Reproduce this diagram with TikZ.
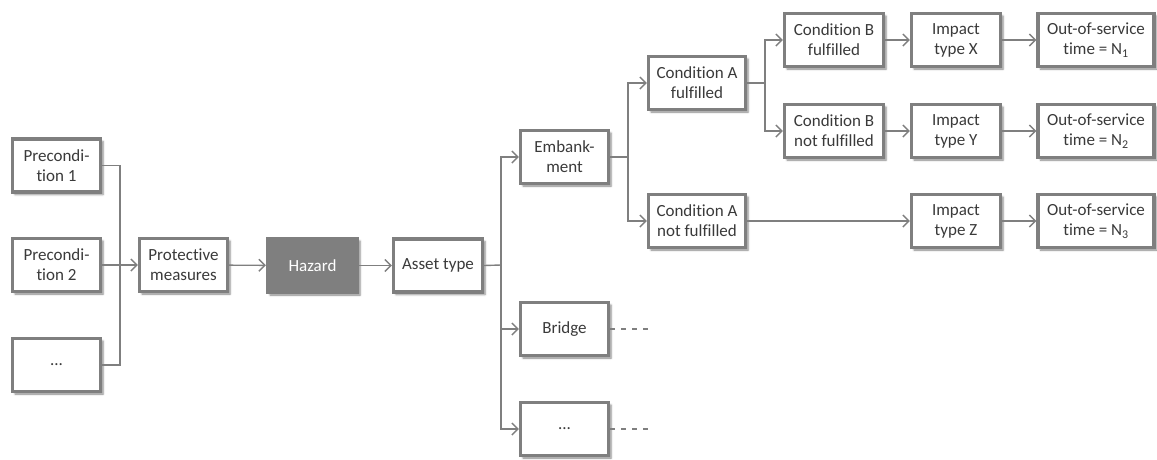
\documentclass[tikz,border=0pt]{standalone}
\usepackage{fontspec}
\setmainfont{Carlito}[Ligatures={NoCommon}]
\usetikzlibrary{arrows.meta,shadows.blur}
\definecolor{linegray}{HTML}{7F7F7F}
\definecolor{txtgray}{HTML}{3A3A3A}
\tikzset{
  box/.style={draw=linegray, line width=3.2pt, fill=white, align=center,
    text=txtgray, inner sep=0pt, minimum width=88pt, minimum height=53pt,
    font=\fontsize{17}{20}\selectfont,
    blur shadow={shadow xshift=2.5pt, shadow yshift=-2.5pt,
      shadow blur radius=2pt, shadow opacity=50}},
  hazbox/.style={box, fill=linegray, text=white, minimum width=90pt, minimum height=54pt},
  link/.style={draw=linegray, line width=1.4pt},
  arr/.style={link, -{Straight Barb[length=6pt,width=12pt,line width=1.4pt]}},
  trail/.style={link, dash pattern=on 5pt off 6pt}
}
\begin{document}
\begin{tikzpicture}[x=1pt,y=-1pt]
\useasboundingbox (0,0) rectangle (1157,459);

% preconditions and the hazard chain
\node[box] (p1) at (56.5,165.5) {Precondi-\\tion 1};
\node[box] (p2) at (56.5,265) {Precondi-\\tion 2};
\node[box] (p3) at (56.5,365) {...};
\node[box] (prot) at (183.5,265) {Protective\\measures};
\node[hazbox] (haz) at (312.5,265.5) {Hazard};
\node[box, minimum width=89pt] (asset) at (438,265.5) {Asset type};

% asset types
\node[box] (emb) at (564.5,157) {Embank-\\ment};
\node[box] (bridge) at (564.5,329) {Bridge};
\node[box] (adots) at (564.5,429) {...};

% conditions
\node[box, minimum width=97pt] (caf) at (697,83) {Condition A\\fulfilled};
\node[box, minimum width=97pt] (can) at (697,221) {Condition A\\not fulfilled};
\node[box, minimum width=99pt] (cbf) at (834,40) {Condition B\\fulfilled};
\node[box, minimum width=99pt] (cbn) at (834,131) {Condition B\\not fulfilled};

% impacts and outcomes
\node[box, minimum width=89pt] (ix) at (956,40) {Impact\\type X};
\node[box, minimum width=89pt] (iy) at (956,131) {Impact\\type Y};
\node[box, minimum width=89pt] (iz) at (956,221) {Impact\\type Z};
\node[box, minimum width=116pt] (o1) at (1096,40) {Out-of-service\\time = N\textsubscript{1}};
\node[box, minimum width=116pt] (o2) at (1096,131) {Out-of-service\\time = N\textsubscript{2}};
\node[box, minimum width=116pt] (o3) at (1096,221) {Out-of-service\\time = N\textsubscript{3}};

% branching points
\coordinate (b1) at (120,265);
\coordinate (b2) at (501,265);
\coordinate (b3) at (628,157);
\coordinate (b4) at (765,83);
\coordinate (bt) at (648,329);
\coordinate (dt) at (648,429);

% connectors
\draw[link] (p1.east) -| (b1);
\draw[link] (p3.east) -| (b1);
\draw[arr] (p2.east) -- (prot.west);
\draw[arr] (prot) -- (haz);
\draw[arr] (haz) -- (asset);

\draw[link] (asset.east) -- (b2);
\draw[arr] (b2) |- (emb.west);
\draw[arr] (b2) |- (bridge.west);
\draw[arr] (b2) |- (adots.west);

\draw[link] (emb.east) -- (b3);
\draw[arr] (b3) |- (caf.west);
\draw[arr] (b3) |- (can.west);

\draw[link] (caf.east) -- (b4);
\draw[arr] (b4) |- (cbf.west);
\draw[arr] (b4) |- (cbn.west);

\draw[arr] (cbf) -- (ix);
\draw[arr] (cbn) -- (iy);
\draw[arr] (can) -- (iz);
\draw[arr] (ix) -- (o1);
\draw[arr] (iy) -- (o2);
\draw[arr] (iz) -- (o3);

\draw[trail] (bridge.east) -- (bt);
\draw[trail] (adots.east) -- (dt);
\end{tikzpicture}
\end{document}
